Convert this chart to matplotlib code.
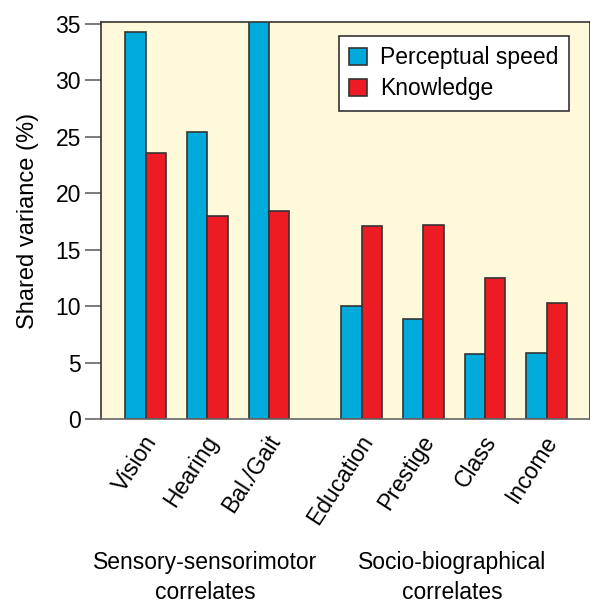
import matplotlib
matplotlib.use("Agg")
import matplotlib.pyplot as plt
import matplotlib.transforms as mtransforms
import numpy as np

plt.rcParams['font.family'] = ['Liberation Sans', 'DejaVu Sans']

categories = ["Vision", "Hearing", "Bal./Gait", "Education", "Prestige", "Class", "Income"]
positions = [0, 1, 2, 3.5, 4.5, 5.5, 6.5]
perceptual_speed = [34.3, 25.4, 35.6, 10.0, 8.9, 5.8, 5.9]
knowledge = [23.6, 18.0, 18.4, 17.1, 17.2, 12.5, 10.3]
group_labels = ["Sensory-sensorimotor\ncorrelates", "Socio-biographical\ncorrelates"]
group_centers = [0.97, 4.97]

blue = "#00aadb"
red = "#ed1c24"
edge = "#333333"
fs = 16.5

fig = plt.figure(figsize=(5.9, 6.04), dpi=100)
ax = fig.add_axes([0.1712, 0.3058, 0.8288, 0.6583])
ax.set_facecolor("#fff9dc")

x = np.array(positions)
w = 0.33
ax.bar(x - w / 2, perceptual_speed, width=w, color=blue, edgecolor=edge,
       linewidth=1.2, label="Perceptual speed", zorder=2)
ax.bar(x + w / 2, knowledge, width=w, color=red, edgecolor=edge,
       linewidth=1.2, label="Knowledge", zorder=2)

ax.set_xlim(-0.724, 7.2)
ax.set_ylim(0, 35.2)
ax.set_yticks(range(0, 36, 5))
ax.tick_params(axis='y', length=11.5, width=1.2, color="#666666",
               labelsize=fs, pad=3)
ax.set_xticks(x)
ax.set_xticklabels(categories, rotation=57, ha='right', va='center',
                   rotation_mode='anchor', fontsize=fs)
ax.tick_params(axis='x', length=0, pad=13)
shift = mtransforms.ScaledTranslation(6 / 100, 0, fig.dpi_scale_trans)
for lbl in ax.get_xticklabels():
    lbl.set_transform(lbl.get_transform() + shift)

for side in ['left', 'top', 'right']:
    ax.spines[side].set_color(edge)
    ax.spines[side].set_linewidth(1.2)
ax.spines['bottom'].set_color("#666666")
ax.spines['bottom'].set_linewidth(1.2)

ax.set_ylabel("Shared variance (%)", fontsize=17, labelpad=12)

for gx, gl in zip(group_centers, group_labels):
    ax.text(gx, -0.33, gl, transform=ax.get_xaxis_transform(), ha='center',
            va='top', fontsize=fs, linespacing=1.4)

leg = ax.legend(loc='upper right', bbox_to_anchor=(0.957, 0.964),
                borderaxespad=0, fontsize=fs, fancybox=False, framealpha=1,
                edgecolor=edge, handlelength=0.75, handleheight=0.75,
                handletextpad=0.6, labelspacing=0.35, borderpad=0.45)
leg.get_frame().set_linewidth(1.2)

fig.savefig("out.png", dpi=100)
